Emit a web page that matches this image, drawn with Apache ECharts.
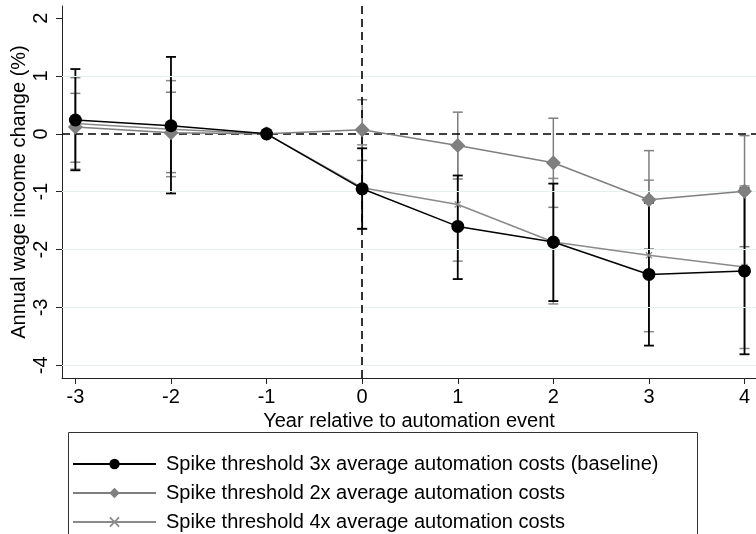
<!DOCTYPE html>
<html>
<head>
<meta charset="utf-8">
<script src="https://cdn.jsdelivr.net/npm/echarts@6/dist/echarts.min.js"></script>
<style>html,body{margin:0;padding:0;background:#fff;}#c{width:756px;height:534px;}</style>
</head>
<body>
<div id="c"></div>
<script>
// ---- data ----
const years = [-3, -2, -1, 0, 1, 2, 3, 4];
const xTicks = [-3, -2, -1, 0, 1, 2, 3, 4];
const yTicks = [-4, -3, -2, -1, 0, 1, 2];
const gridValues = [-4, -3, -2, -1, 1];
const seriesNames = [
  'Spike threshold 3x average automation costs (baseline)',
  'Spike threshold 2x average automation costs',
  'Spike threshold 4x average automation costs'
];
const baseline   = [0.24, 0.14, 0, -0.95, -1.60, -1.87, -2.43, -2.37];
const baselineLo = [-0.63, -1.03, 0, -1.64, -2.51, -2.89, -3.66, -3.81];
const baselineHi = [1.12, 1.33, 0, -0.25, -0.72, -0.86, -1.19, -0.94];
const twoX       = [0.12, 0.02, 0, 0.07, -0.20, -0.50, -1.14, -0.99];
const twoXLo     = [-0.49, -0.67, 0, -0.46, -0.78, -1.27, -1.99, -1.95];
const twoXHi     = [0.70, 0.72, 0, 0.59, 0.375, 0.27, -0.29, -0.03];
const fourX      = [0.18, 0.08, 0, -0.93, -1.22, -1.87, -2.10, -2.30];
const fourXLo    = [-0.61, -0.74, 0, -1.65, -2.20, -2.94, -3.42, -3.71];
const fourXHi    = [0.97, 0.92, 0, -0.19, -0.24, -0.77, -0.80, -0.90];

const FONT = 'Liberation Sans';
const FS = 20;
const C_BASE = '#000000', C_TWO = '#7f7f7f', C_FOUR = '#8a8a8a';
const xSymbol = 'path://M0,1.2L1.2,0L5,3.8L8.8,0L10,1.2L6.2,5L10,8.8L8.8,10L5,6.2L1.2,10L0,8.8L3.8,5Z';

function pairs(vals) { return years.map((x, i) => [x, vals[i]]); }
function ciData(lo, hi) { return years.map((x, i) => [x, lo[i], hi[i]]); }

function errorBar(color, width) {
  return function (params, api) {
    const x = api.value(0), lo = api.value(1), hi = api.value(2);
    if (lo === hi) return null;
    const p1 = api.coord([x, hi]);
    const p2 = api.coord([x, lo]);
    const hw = 5;
    const style = { stroke: color, lineWidth: width };
    return {
      type: 'group',
      children: [
        { type: 'line', shape: { x1: p1[0], y1: p1[1], x2: p2[0], y2: p2[1] }, style },
        { type: 'line', shape: { x1: p1[0] - hw, y1: p1[1], x2: p1[0] + hw, y2: p1[1] }, style },
        { type: 'line', shape: { x1: p2[0] - hw, y1: p2[1], x2: p2[0] + hw, y2: p2[1] }, style }
      ]
    };
  };
}

const chart = echarts.init(document.getElementById('c'), null, { renderer: 'canvas' });
chart.setOption({
  backgroundColor: '#ffffff',
  animation: false,
  textStyle: { fontFamily: FONT },
  grid: { left: 62, right: 0, top: 6, height: 372, containLabel: false, outerBoundsMode: 'none' },
  xAxis: {
    type: 'value', min: -3.14, max: 4.12,
    name: 'Year relative to automation event',
    nameLocation: 'middle', nameGap: 33, nameMoveOverlap: false,
    nameTextStyle: { fontSize: FS, color: '#000', fontFamily: FONT },
    axisLine: { show: true, onZero: false, lineStyle: { color: '#222', width: 1 } },
    axisTick: { show: true, length: 6, customValues: xTicks, lineStyle: { color: '#222' } },
    axisLabel: { customValues: xTicks, fontSize: FS, color: '#000', margin: 9, fontFamily: FONT },
    splitLine: { show: false }
  },
  yAxis: {
    type: 'value', min: -4.22, max: 2.21,
    name: 'Annual wage income change (%)',
    nameLocation: 'middle', nameGap: 33, nameMoveOverlap: false,
    nameTextStyle: { fontSize: FS, color: '#000', fontFamily: FONT },
    axisLine: { show: true, onZero: false, lineStyle: { color: '#222', width: 1 } },
    axisTick: { show: true, length: 6, customValues: yTicks, lineStyle: { color: '#222' } },
    axisLabel: { customValues: yTicks, fontSize: FS, color: '#000', rotate: 90, margin: 11, fontFamily: FONT },
    splitLine: { show: false }
  },
  legend: {
    orient: 'vertical', left: 67, top: 449, height: 200,
    itemWidth: 83, itemHeight: 13, itemGap: 9,
    textStyle: { fontSize: FS, lineHeight: 20, color: '#000', fontFamily: FONT, padding: [0, 0, 0, 5] },
    data: seriesNames
  },
  graphic: [
    { type: 'rect', shape: { x: 68.5, y: 432.5, width: 629, height: 200 },
      style: { fill: 'none', stroke: '#333', lineWidth: 1 }, silent: true, z: 0 }
  ],
  series: [
    { type: 'line', name: '_grid', data: [], silent: true,
      markLine: { silent: true, symbol: 'none', label: { show: false },
        lineStyle: { color: '#e6eef0', width: 1, type: 'solid' },
        data: gridValues.map(v => ({ yAxis: v })) }, z: 0 },
    { type: 'line', name: '_ref', data: [], silent: true,
      markLine: { silent: true, symbol: 'none', label: { show: false },
        lineStyle: { color: '#000', width: 1.6, type: [8, 5] },
        data: [{ yAxis: 0 }, { xAxis: 0 }] }, z: 1 },
    { type: 'custom', name: '_ci4', data: ciData(fourXLo, fourXHi), renderItem: errorBar(C_FOUR, 1.5), z: 2 },
    { type: 'custom', name: '_ci2', data: ciData(twoXLo, twoXHi), renderItem: errorBar(C_TWO, 1.5), z: 3 },
    { type: 'custom', name: '_ci3', data: ciData(baselineLo, baselineHi), renderItem: errorBar(C_BASE, 1.8), z: 4 },
    { type: 'line', name: seriesNames[2], data: pairs(fourX), symbol: xSymbol, symbolSize: 7,
      lineStyle: { color: C_FOUR, width: 1.5 }, itemStyle: { color: C_FOUR }, z: 5 },
    { type: 'line', name: seriesNames[1], data: pairs(twoX), symbol: 'diamond', symbolSize: 15,
      lineStyle: { color: C_TWO, width: 1.5 }, itemStyle: { color: C_TWO }, z: 6 },
    { type: 'line', name: seriesNames[0], data: pairs(baseline), symbol: 'circle', symbolSize: 13,
      lineStyle: { color: C_BASE, width: 1.5 }, itemStyle: { color: C_BASE }, z: 7 }
  ]
});
</script>
</body>
</html>
